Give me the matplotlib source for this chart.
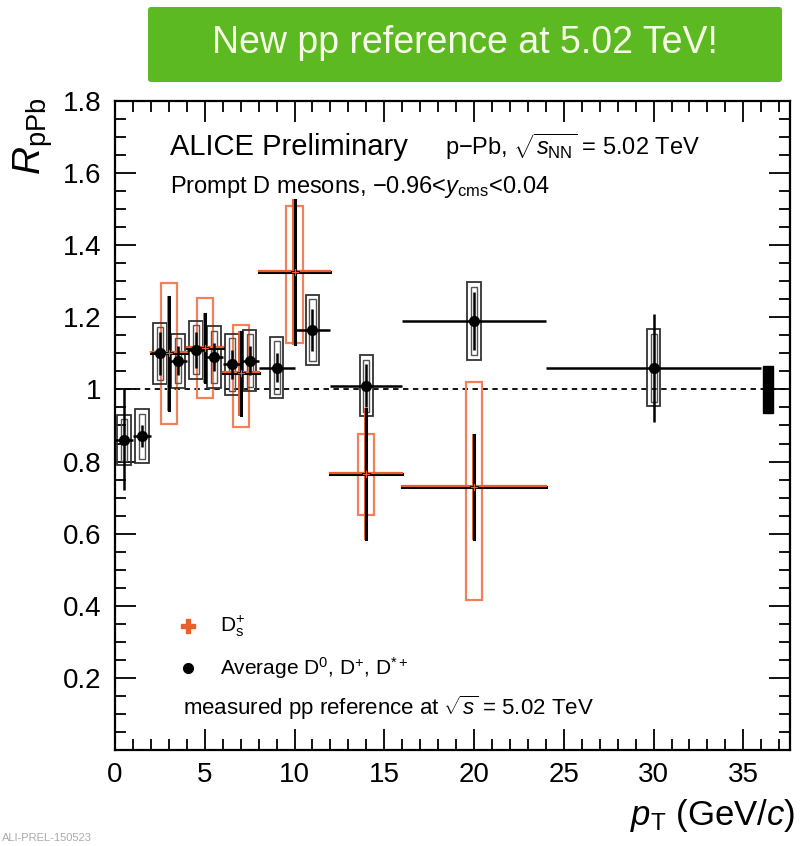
import numpy as np
import matplotlib
matplotlib.use("Agg")
import matplotlib.pyplot as plt
from matplotlib.patches import Rectangle, FancyBboxPatch
from matplotlib.ticker import MultipleLocator, FixedLocator, FixedFormatter
from matplotlib.transforms import ScaledTranslation

plt.rcParams['font.family'] = ['Liberation Sans', 'DejaVu Sans']
plt.rcParams['mathtext.fontset'] = 'custom'
plt.rcParams['mathtext.rm'] = 'Liberation Sans'
plt.rcParams['mathtext.it'] = 'Liberation Sans:italic'
plt.rcParams['mathtext.bf'] = 'Liberation Sans:bold'

# Average D0, D+, D*+ : pT bin centres, half widths, RpPb, stat, syst
avg_pt = [0.5, 1.5, 2.5, 3.5, 4.5, 5.5, 6.5, 7.5, 9, 11, 14, 20, 30]
avg_dpt = [0.5, 0.5, 0.5, 0.5, 0.5, 0.5, 0.5, 0.5, 1, 1, 2, 4, 6]
avg_r = [0.86, 0.87, 1.10, 1.08, 1.11, 1.09, 1.07, 1.08, 1.06, 1.165, 1.01, 1.19, 1.06]
avg_stat = [0.14, 0.03, 0.06, 0.04, 0.05, 0.04, 0.04, 0.04, 0.04, 0.058, 0.06, 0.08, 0.15]
avg_syst = [0.07, 0.075, 0.085, 0.075, 0.08, 0.085, 0.085, 0.085, 0.085, 0.097, 0.085, 0.107, 0.107]

# Ds+
ds_pt = [3, 5, 7, 10, 14, 20]
ds_dpt = [1, 1, 1, 2, 2, 4]
ds_r = [1.10, 1.115, 1.045, 1.325, 0.766, 0.73]
ds_stat = [0.157, 0.095, 0.115, 0.20, 0.18, 0.145]
ds_syst_up = [0.195, 0.14, 0.135, 0.185, 0.11, 0.29]
ds_syst_lo = [0.195, 0.14, 0.15, 0.195, 0.115, 0.315]

# normalisation uncertainty
norm_unc = 0.065

y_ticks = [0.2, 0.4, 0.6, 0.8, 1.0, 1.2, 1.4, 1.6, 1.8]
y_ticklabels = ['0.2', '0.4', '0.6', '0.8', '1', '1.2', '1.4', '1.6', '1.8']
x_ticks = [0, 5, 10, 15, 20, 25, 30, 35]

ds_line = '#e8602c'
ds_box = '#f2805a'

fig = plt.figure(figsize=(8, 8.46), dpi=100)
ax = fig.add_axes([115/800, 1 - 750/846, 675/800, 649/846])
ax.set_xlim(0, 37.6)
ax.set_ylim(0, 1.8)

ax.axhline(1.0, color='black', lw=1.3, ls=(0, (3, 2.5)), zorder=1)

up = ScaledTranslation(0, 1.2/100, fig.dpi_scale_trans)
left = ScaledTranslation(-1.2/100, 0, fig.dpi_scale_trans)

# Ds systematic boxes
for x, y, su, sl in zip(ds_pt, ds_r, ds_syst_up, ds_syst_lo):
    ax.add_patch(Rectangle((x - 0.45, y - sl), 0.9, su + sl, fill=False,
                           ec=ds_box, lw=1.6, zorder=2))

# average D systematic boxes (double outline)
for x, y, s in zip(avg_pt, avg_r, avg_syst):
    ax.add_patch(Rectangle((x - 0.38, y - s), 0.76, 2*s, fill=False,
                           ec='#333333', lw=1.3, zorder=3))
    ax.add_patch(Rectangle((x - 0.17, y - s + 0.012), 0.34, 2*s - 0.024, fill=False,
                           ec='#555555', lw=1.0, zorder=3))

# Ds error bars: black with an orange edge
for x, y, dx, e in zip(ds_pt, ds_r, ds_dpt, ds_stat):
    ax.plot([x, x], [y - e, y + e], color=ds_line, lw=1.4, zorder=4,
            transform=ax.transData + left)
    ax.plot([x - dx, x + dx], [y, y], color='black', lw=2.2, zorder=4)
    ax.plot([x, x], [y - e, y + e], color='black', lw=2.2, zorder=4)
    ax.plot([x - dx, x + dx], [y, y], color=ds_line, lw=1.6, zorder=4,
            transform=ax.transData + up)

# average D error bars and markers
ax.errorbar(avg_pt, avg_r, xerr=avg_dpt, yerr=avg_stat, fmt='o', color='black',
            ms=7, elinewidth=1.8, capsize=0, zorder=5)
ax.plot(ds_pt, ds_r, 'P', color=ds_line, mec='black', mew=0.6, ms=6, zorder=6)

# normalisation box
ax.add_patch(Rectangle((36.1, 1 - norm_unc), 0.55, 2*norm_unc, color='black', zorder=5))

# axes styling
for sp in ax.spines.values():
    sp.set_linewidth(1.6)
ax.xaxis.set_major_locator(FixedLocator(x_ticks))
ax.xaxis.set_minor_locator(MultipleLocator(1))
ax.yaxis.set_major_locator(FixedLocator(y_ticks))
ax.yaxis.set_major_formatter(FixedFormatter(y_ticklabels))
ax.yaxis.set_minor_locator(MultipleLocator(0.05))
ax.tick_params(which='both', direction='in', top=True, right=True, width=1.3,
               labelsize=20)
ax.tick_params(which='major', length=15)
ax.tick_params(which='minor', length=8)
ax.tick_params(axis='y', pad=10)
ax.tick_params(axis='x', pad=9)

# in-plot texts
ax.text(0.0815, 0.917, 'ALICE Preliminary', transform=ax.transAxes, fontsize=21,
        va='baseline')
ax.text(0.489, 0.917, r'p$-$Pb, $\sqrt{s_{\rm NN}}$ = 5.02 TeV', transform=ax.transAxes,
        fontsize=17, va='baseline')
ax.text(0.0815, 0.858, r'Prompt D mesons, $-$0.96<$y_{\rm cms}$<0.04',
        transform=ax.transAxes, fontsize=17, va='baseline')

# legend
ax.plot([0.108], [0.191], 'P', color=ds_line, ms=10, transform=ax.transAxes,
        clip_on=False)
ax.text(0.1556, 0.191, r'D$_{\rm s}^{+}$', transform=ax.transAxes, fontsize=15,
        va='center')
ax.plot([0.108], [0.126], 'o', color='black', ms=7, transform=ax.transAxes)
ax.text(0.1556, 0.126, r'Average D$^{0}$, D$^{+}$, D$^{*+}$', transform=ax.transAxes,
        fontsize=15, va='center')
ax.text(0.1007, 0.0647, r'measured pp reference at $\sqrt{s}$ = 5.02 TeV',
        transform=ax.transAxes, fontsize=16, va='center')

# axis titles
fig.text(33/800, 1 - 98/846, r'$R_{\rm pPb}$', rotation=90, fontsize=28,
         ha='center', va='top')
fig.text(795/800, 1 - 825/846, r'$p_{\rm T}$ (GeV/$c$)', fontsize=25,
         ha='right', va='baseline')

# banner
fig.patches.append(FancyBboxPatch((148/800, 1 - 82/846), 634/800, 75/846,
                                  boxstyle='round,pad=0,rounding_size=0.004',
                                  transform=fig.transFigure, fc='#5db922', ec='none'))
fig.text(465/800, 1 - 43/846, 'New pp reference at 5.02 TeV!',
         fontsize=27, color='#f5fbe6', ha='center', va='center')

fig.text(2/800, 1 - 833/846, 'ALI-PREL-150523', fontsize=8, color='#aaaaaa',
         ha='left', va='top')

fig.savefig('out.png', dpi=100)
